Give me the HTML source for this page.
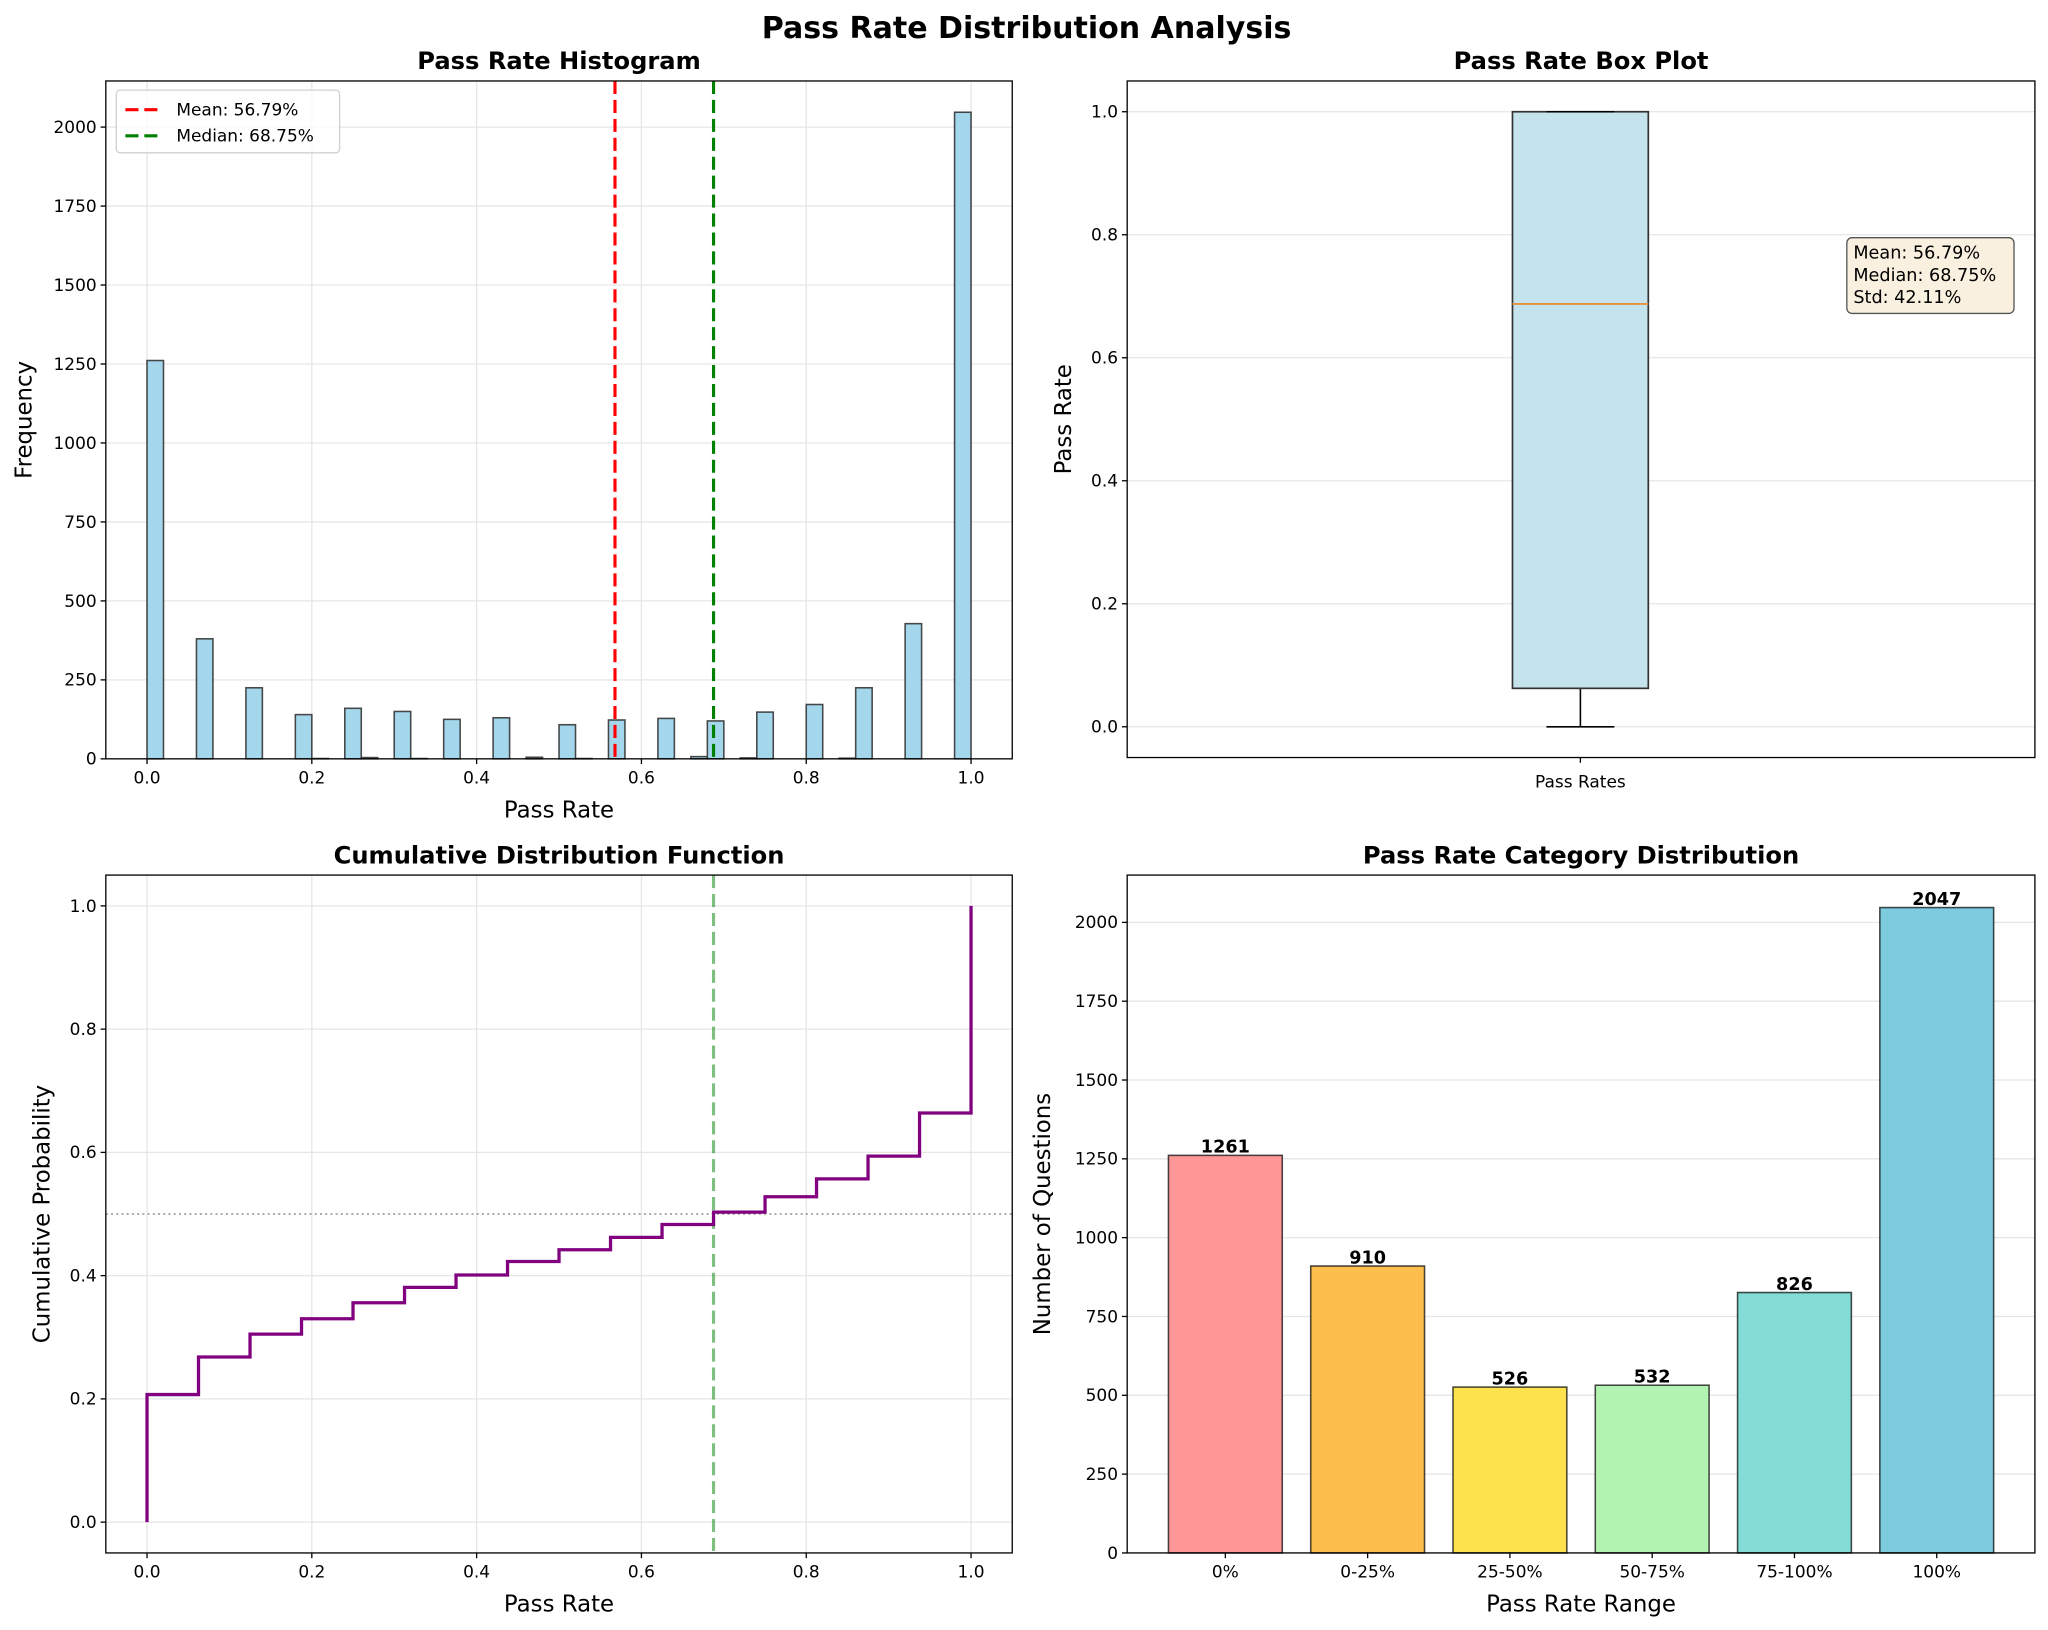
<!DOCTYPE html>
<html><head><meta charset="utf-8"><style>
html,body{margin:0;padding:0;background:#fff;}
svg{display:block;font-family:"DejaVu Sans","Liberation Sans",sans-serif;}
</style></head><body>
<svg id="fig" width="2048" height="1630" viewBox="0 0 1568 1248" xmlns="http://www.w3.org/2000/svg">
<rect width="1568" height="1248" fill="#fff"/>
<text x="786" y="29" font-size="23" font-weight="bold" text-anchor="middle">Pass Rate Distribution Analysis</text>
<g id="p1"></g>
<g id="p2"></g>
<g id="p3"></g>
<g id="p4"></g>
</svg>
<script>
// ---- data ----
const histCounts = [1261,0,0,380,0,0,225,0,0,140,1,0,160,4,0,150,1,0,125,0,0,130,0,5,0,108,1,0,123,0,0,128,0,7,120,0,3,148,0,0,172,0,2,225,0,0,428,0,0,2047];
const histBins = 50;
const meanVal = 0.5679;
const medianVal = 0.6875;
const boxStats = [0, 0.0625, 0.6875, 1.0, 1.0]; // min, q1, median, q3, max
const statLines = ["Mean: 56.79%","Median: 68.75%","Std: 42.11%"];
const cdfX = [0,0.0625,0.125,0.1875,0.25,0.3125,0.375,0.4375,0.5,0.5625,0.625,0.6875,0.75,0.8125,0.875,0.9375,1.0];
const cdfY = [0.207,0.268,0.305,0.330,0.356,0.381,0.401,0.423,0.442,0.462,0.483,0.503,0.528,0.557,0.594,0.664,1.0];
const catLabels = ["0%","0-25%","25-50%","50-75%","75-100%","100%"];
const catValues = [1261,910,526,532,826,2047];
const catColors = ["#ff9797","#fdbe4e","#fde24d","#b2f3b2","#83dcd5","#7dcbdf"];
const xTicks01 = [0,0.2,0.4,0.6,0.8,1.0];
const xTickLabels01 = ["0.0","0.2","0.4","0.6","0.8","1.0"];
const countTicks = [0,250,500,750,1000,1250,1500,1750,2000];
const probTicks = [0,0.2,0.4,0.6,0.8,1.0];
const probTickLabels = ["0.0","0.2","0.4","0.6","0.8","1.0"];

const NS="http://www.w3.org/2000/svg";
const DASH='10,4.5';
function mk(parent,tag,attrs,text){const e=document.createElementNS(NS,tag);for(const k in attrs)e.setAttribute(k,attrs[k]);if(text!==undefined)e.textContent=text;parent.appendChild(e);return e;}
function lin(d0,d1,r0,r1){return v=>r0+(v-d0)/(d1-d0)*(r1-r0);}

function axesFrame(g,L,T,R,B){
  const f=mk(g,'rect',{x:L,y:T,width:R-L,height:B-T,fill:'none',stroke:'#000','stroke-width':1});
  
  
}
function yAxis(g,ys,ticks,labels,L,R,grid){
  ticks.forEach((t,i)=>{
    const y=ys(t);
    if(grid){const gl=mk(g,'line',{x1:L,x2:R,y1:y,y2:y,stroke:'#e6e6e6','stroke-width':1});
      
      }
    mk(g,'line',{x1:L-4,x2:L,y1:y,y2:y,stroke:'#000','stroke-width':1});
    const tx=mk(g,'text',{x:L-7,y:y+4.5,'font-size':13,'text-anchor':'end'},labels?labels[i]:String(t));
    
    
  });
}
function xAxis(g,xs,ticks,labels,T,B,grid){
  ticks.forEach((t,i)=>{
    const x=xs(t);
    if(grid){const gl=mk(g,'line',{x1:x,x2:x,y1:T,y2:B,stroke:'#e6e6e6','stroke-width':1});
      
      }
    mk(g,'line',{x1:x,x2:x,y1:B,y2:B+4,stroke:'#000','stroke-width':1});
    const tx=mk(g,'text',{x:x,y:B+19,'font-size':13,'text-anchor':'middle'},labels[i]);
    
    
  });
}
function titles(g,L,T,R,B,title,xl,yl,ylx){
  const t=mk(g,'text',{x:(L+R)/2,y:T-9,'font-size':18.5,'font-weight':'bold','text-anchor':'middle'},title);
  
  
  if(xl){const a=mk(g,'text',{x:(L+R)/2,y:B+45,'font-size':17.5,'text-anchor':'middle'},xl);
    
    }
  if(yl){const cy=(T+B)/2;const a=mk(g,'text',{x:ylx,y:cy,'font-size':17.5,'text-anchor':'middle',transform:`rotate(-90 ${ylx} ${cy})`},yl);
    
    }
}

// ---- Panel 1: histogram ----
(function(){
  const g=document.getElementById('p1');
  const L=81,R=775,T=62,B=581;
  const xs=lin(-0.05,1.05,L,R), ys=lin(0,2146,B,T);
  xAxis(g,xs,xTicks01,xTickLabels01,T,B,true);
  yAxis(g,ys,countTicks,null,L,R,true);
  const w=1/histBins;
  histCounts.forEach((c,i)=>{
    if(c<=0)return;
    const x0=xs(i*w),x1=xs((i+1)*w);
    const r=mk(g,'rect',{x:x0,y:ys(c),width:x1-x0,height:B-ys(c),fill:'#a5d7ec',stroke:'#2b2b2b','stroke-opacity':0.85,'stroke-width':1.2});
    
    
  });
  const m=mk(g,'line',{x1:xs(meanVal),x2:xs(meanVal),y1:T,y2:B,stroke:'#ff0000','stroke-width':2.4,'stroke-dasharray':DASH});
  
  
  const md=mk(g,'line',{x1:xs(medianVal),x2:xs(medianVal),y1:T,y2:B,stroke:'#008000','stroke-width':2.4,'stroke-dasharray':DASH});
  
  
  axesFrame(g,L,T,R,B);
  titles(g,L,T,R,B,'Pass Rate Histogram','Pass Rate','Frequency',24);
  const lg=mk(g,'g',{});
  
  
  mk(lg,'rect',{x:89,y:69,width:171,height:48,rx:3,fill:'#fff','fill-opacity':0.8,stroke:'#d0d0d0'});
  mk(lg,'line',{x1:96,x2:124,y1:84,y2:84,stroke:'#ff0000','stroke-width':2.4,'stroke-dasharray':DASH});
  mk(lg,'line',{x1:96,x2:124,y1:104,y2:104,stroke:'#008000','stroke-width':2.4,'stroke-dasharray':DASH});
  const l1=mk(lg,'text',{x:135,y:88.5,'font-size':13},'Mean: 56.79%');
  
  
  const l2=mk(lg,'text',{x:135,y:108.5,'font-size':13},'Median: 68.75%');
  
  
})();

// ---- Panel 2: box plot ----
(function(){
  const g=document.getElementById('p2');
  const L=863,R=1558,T=62,B=580;
  const ys=lin(-0.05,1.05,B,T);
  yAxis(g,ys,probTicks,probTickLabels,L,R,true);
  const cx=1210,hw=52,cw=26;
  mk(g,'line',{x1:cx,x2:cx,y1:ys(boxStats[0]),y2:ys(boxStats[1]),stroke:'#000','stroke-width':1.2});
  mk(g,'line',{x1:cx,x2:cx,y1:ys(boxStats[3]),y2:ys(boxStats[4]),stroke:'#000','stroke-width':1.2});
  const bx=mk(g,'rect',{x:cx-hw,y:ys(boxStats[3]),width:2*hw,height:ys(boxStats[1])-ys(boxStats[3]),fill:'#c5e3ed',stroke:'#333','stroke-width':1.3});
  
  
  const lo=mk(g,'line',{x1:cx-cw,x2:cx+cw,y1:ys(boxStats[0]),y2:ys(boxStats[0]),stroke:'#000','stroke-width':1.2});
  
  
  const hi=mk(g,'line',{x1:cx-cw,x2:cx+cw,y1:ys(boxStats[4]),y2:ys(boxStats[4]),stroke:'#000','stroke-width':1.2});
  
  
  const med=mk(g,'line',{x1:cx-hw,x2:cx+hw,y1:ys(boxStats[2]),y2:ys(boxStats[2]),stroke:'#e8913a','stroke-width':1.4});
  
  
  mk(g,'line',{x1:cx,x2:cx,y1:B,y2:B+4,stroke:'#000'});
  const xl=mk(g,'text',{x:cx,y:B+23,'font-size':13,'text-anchor':'middle'},'Pass Rates');
  
  
  axesFrame(g,L,T,R,B);
  titles(g,L,T,R,B,'Pass Rate Box Plot',null,'Pass Rate',820);
  const sb=mk(g,'g',{});
  
  
  mk(sb,'rect',{x:1414,y:182,width:128,height:58,rx:4,fill:'#f5e6cc','fill-opacity':0.6,stroke:'#555','stroke-width':1});
  statLines.forEach((s,i)=>{
    const t=mk(sb,'text',{x:1419,y:198+i*17,'font-size':13.5},s);
    
    
  });
})();

// ---- Panel 3: CDF ----
(function(){
  const g=document.getElementById('p3');
  const L=81,R=775,T=670,B=1189;
  const xs=lin(-0.05,1.05,L,R), ys=lin(-0.05,1.05,B,T);
  xAxis(g,xs,xTicks01,xTickLabels01,T,B,true);
  yAxis(g,ys,probTicks,probTickLabels,L,R,true);
  const h=mk(g,'line',{x1:L,x2:R,y1:ys(0.5),y2:ys(0.5),stroke:'#777','stroke-width':1,'stroke-dasharray':'1.5,2.5'});
  
  
  const v=mk(g,'line',{x1:xs(medianVal),x2:xs(medianVal),y1:T,y2:B,stroke:'#008000','stroke-opacity':0.5,'stroke-width':2.4,'stroke-dasharray':DASH});
  
  
  let d=`M${xs(cdfX[0])},${ys(0)}`;
  cdfX.forEach((x,i)=>{
    d+=` L${xs(x)},${ys(cdfY[i])}`;
    if(i<cdfX.length-1) d+=` L${xs(cdfX[i+1])},${ys(cdfY[i])}`;
  });
  const p=mk(g,'path',{d:d,fill:'none',stroke:'#800080','stroke-width':2.5});
  
  
  axesFrame(g,L,T,R,B);
  titles(g,L,T,R,B,'Cumulative Distribution Function','Pass Rate','Cumulative Probability',38);
})();

// ---- Panel 4: categories ----
(function(){
  const g=document.getElementById('p4');
  const L=863,R=1558,T=670,B=1189;
  const n=catLabels.length;
  const xs=lin(-0.69,n-1+0.69,L,R), ys=lin(0,2150,B,T);
  yAxis(g,ys,countTicks,null,L,R,true);
  catLabels.forEach((c,i)=>{
    const x0=xs(i-0.4),x1=xs(i+0.4),y=ys(catValues[i]);
    const r=mk(g,'rect',{x:x0,y:y,width:x1-x0,height:B-y,fill:catColors[i],stroke:'#000','stroke-opacity':0.7,'stroke-width':1.2});
    
    
    const vt=mk(g,'text',{x:xs(i),y:y-2,'font-size':13.5,'font-weight':'bold','text-anchor':'middle'},String(catValues[i]));
    
    
  });
  xAxis(g,xs,catLabels.map((c,i)=>i),catLabels,T,B,false);
  axesFrame(g,L,T,R,B);
  titles(g,L,T,R,B,'Pass Rate Category Distribution','Pass Rate Range','Number of Questions',804);
})();
</script>
</body></html>
